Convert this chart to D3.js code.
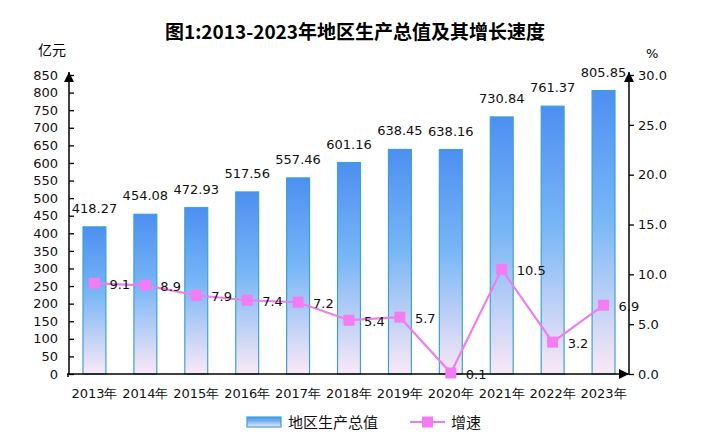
<!DOCTYPE html>
<html><head><meta charset="utf-8">
<script src="https://cdn.jsdelivr.net/npm/d3@7"></script>
<style>body{margin:0;background:#fff}svg{display:block}</style>
</head><body>
<svg id="c" width="711" height="441"></svg>
<script>
const years = ["2013年","2014年","2015年","2016年","2017年","2018年","2019年","2020年","2021年","2022年","2023年"];
const gdp = [418.27,454.08,472.93,517.56,557.46,601.16,638.45,638.16,730.84,761.37,805.85];
const growth = [9.1,8.9,7.9,7.4,7.2,5.4,5.7,0.1,10.5,3.2,6.9];
const leftTicks = [0,50,100,150,200,250,300,350,400,450,500,550,600,650,700,750,800,850];
const rightTicks = [0,5,10,15,20,25,30];

const svg = d3.select("#c");
const font = "'DejaVu Sans', Verdana, sans-serif";
const cjk = "'Noto Sans CJK SC', sans-serif";
const L = 69, R = 629, T = 75, B = 374;

const defs = svg.append("defs");
const g = defs.append("linearGradient").attr("id","bg").attr("x1",0).attr("y1",0).attr("x2",0).attr("y2",1);
g.append("stop").attr("offset","0%").attr("stop-color","#4d8ff2");
g.append("stop").attr("offset","45%").attr("stop-color","#78b6f6");
g.append("stop").attr("offset","100%").attr("stop-color","#fbe8f6");
defs.append("marker").attr("id","arr").attr("viewBox","0 0 10 10").attr("refX",10).attr("refY",5)
  .attr("markerWidth",10).attr("markerHeight",10).attr("markerUnits","userSpaceOnUse").attr("orient","auto")
  .append("path").attr("d","M0,0L10,5L0,10z").attr("fill","#000");

const x = d3.scaleBand().domain(years).range([L,R]).paddingInner(0.55).paddingOuter(0.275);
const yL = d3.scaleLinear().domain([0,850]).range([B,T]);
const yR = d3.scaleLinear().domain([0,30]).range([B,T]);

// title
svg.append("text").attr("x",355).attr("y",39).attr("text-anchor","middle")
  .attr("font-family",cjk).attr("font-weight","bold").attr("font-size",19).attr("fill","#000")
  .text("图1:2013-2023年地区生产总值及其增长速度");
svg.append("text").attr("x",38).attr("y",55).attr("font-family",cjk).attr("font-size",14).attr("fill","#000").text("亿元");
svg.append("text").attr("x",646).attr("y",58).attr("font-family",font).attr("font-size",13).attr("fill","#000").text("%");

// bars
svg.append("g").selectAll("rect").data(gdp).join("rect")
  .attr("x",(d,i)=>x(years[i])).attr("y",d=>yL(d)).attr("width",x.bandwidth()).attr("height",d=>B-yL(d))
  .attr("fill","url(#bg)").attr("stroke","#3ea3cc").attr("stroke-width",1.2);
svg.append("g").selectAll("text").data(gdp).join("text")
  .attr("x",(d,i)=>x(years[i])+x.bandwidth()/2).attr("y",d=>yL(d)-14).attr("text-anchor","middle")
  .attr("font-family",font).attr("font-size",13).attr("fill","#111").text(d=>d.toFixed(2));

// axes
const la = svg.append("g").attr("transform",`translate(${L},0)`)
  .call(d3.axisLeft(yL).tickValues(leftTicks).tickSizeInner(-5).tickSizeOuter(0).tickPadding(11));
la.select(".domain").remove();
la.selectAll("line").attr("stroke","#000").attr("stroke-width",1.3);
la.selectAll("text").attr("font-family",font).attr("font-size",13).attr("fill","#111");
svg.append("line").attr("x1",L).attr("x2",L).attr("y1",B+1).attr("y2",T-3).attr("stroke","#000").attr("stroke-width",1.5).attr("marker-end","url(#arr)");

const ra = svg.append("g").attr("transform",`translate(${R},0)`)
  .call(d3.axisRight(yR).tickValues(rightTicks).tickSizeOuter(0).tickSize(5).tickPadding(4).tickFormat(d3.format(".1f")));
ra.select(".domain").remove();
ra.selectAll("line").attr("stroke","#000").attr("stroke-width",1.3);
ra.selectAll("text").attr("font-family",font).attr("font-size",13).attr("fill","#111");
svg.append("line").attr("x1",R).attr("x2",R).attr("y1",B).attr("y2",T-3).attr("stroke","#000").attr("stroke-width",1.5).attr("marker-end","url(#arr)");

svg.append("line").attr("x1",L-2).attr("x2",R).attr("y1",B).attr("y2",B).attr("stroke","#000").attr("stroke-width",1.5).attr("marker-end","url(#arr)");
svg.append("line").attr("x1",L-1).attr("x2",L-1).attr("y1",B).attr("y2",B+3).attr("stroke","#000").attr("stroke-width",1.5);

const xa = svg.append("g").attr("transform",`translate(0,${B})`).call(d3.axisBottom(x).tickSize(0).tickPadding(15));
xa.select(".domain").remove();
xa.selectAll("text").attr("font-family",font).attr("font-size",13).attr("fill","#111");

// line
const cx = i => x(years[i]) + x.bandwidth()/2;
svg.append("path").datum(growth).attr("fill","none").attr("stroke","#ea7ff0").attr("stroke-width",2.2)
  .attr("d",d3.line().x((d,i)=>cx(i)).y(d=>yR(d)));
svg.append("g").selectAll("rect").data(growth).join("rect")
  .attr("x",(d,i)=>cx(i)-5.5).attr("y",d=>yR(d)-5.5).attr("width",11).attr("height",11).attr("fill","#f47cf2");
svg.append("g").selectAll("text").data(growth).join("text")
  .attr("x",(d,i)=>cx(i)+15).attr("y",d=>yR(d)+6)
  .attr("font-family",font).attr("font-size",13).attr("fill","#111").text(d=>d.toFixed(1));

// legend
const lg = svg.append("g");
lg.append("rect").attr("x",247).attr("y",417).attr("width",34).attr("height",10)
  .attr("fill","url(#bg)").attr("stroke","#3ea3cc").attr("stroke-width",1.2);
lg.append("text").attr("x",288).attr("y",428).attr("font-family",cjk).attr("font-size",15).attr("fill","#111").text("地区生产总值");
lg.append("line").attr("x1",410).attr("x2",445).attr("y1",422).attr("y2",422).attr("stroke","#ea7ff0").attr("stroke-width",2.2);
lg.append("rect").attr("x",422).attr("y",416.5).attr("width",11).attr("height",11).attr("fill","#f47cf2");
lg.append("text").attr("x",451).attr("y",428).attr("font-family",cjk).attr("font-size",15).attr("fill","#111").text("增速");
</script>
</body></html>
